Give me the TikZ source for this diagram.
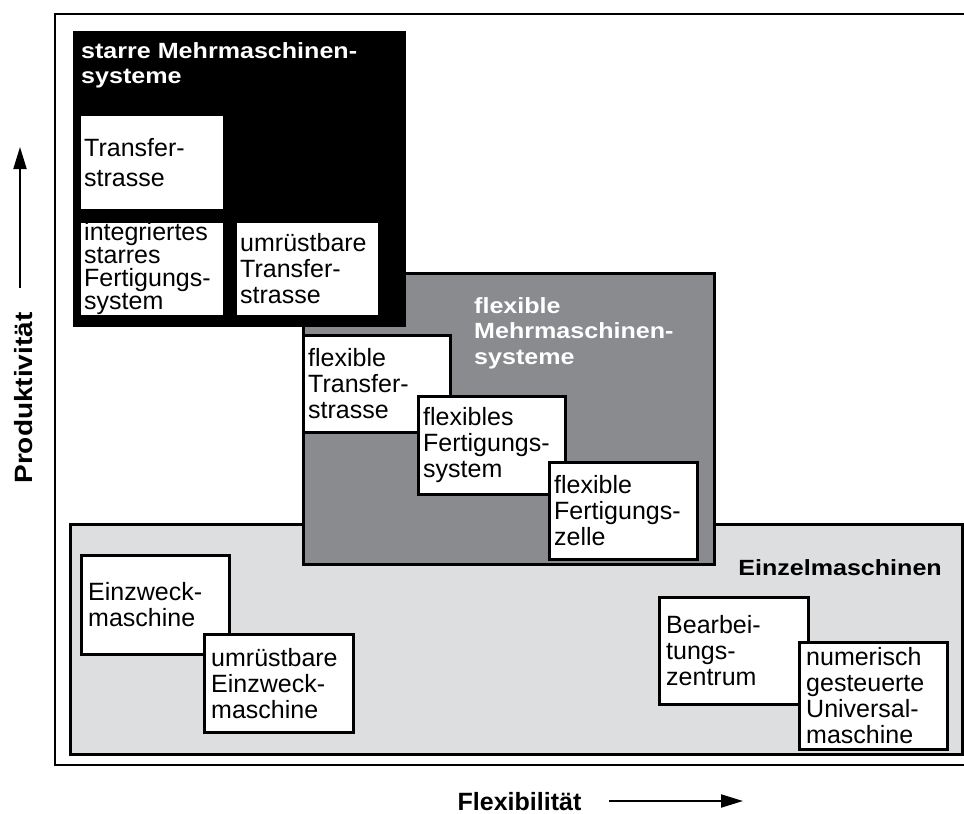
\documentclass[tikz,border=0pt]{standalone}
\usepackage{fontspec}
\setmainfont{Liberation Sans}
\usetikzlibrary{arrows.meta}
\definecolor{hellgrau}{RGB}{221,222,224}
\definecolor{mittelgrau}{RGB}{138,139,143}
\newfontfamily\breitfont[FakeStretch=1.14]{Liberation Sans}
\newfontfamily\achsfont[FakeStretch=1.12]{Liberation Sans}
\tikzset{
  feld/.style={draw=black, line width=2.5pt, anchor=north west, inner sep=0pt},
  kasten/.style={feld, fill=white},
  beschr/.style={anchor=west, inner sep=0pt, align=left},
  titel/.style={anchor=north west, inner sep=0pt, align=left, font=\breitfont\bfseries\fontsize{22}{25.5}\selectfont},
  achse/.style={line width=2pt, -{Triangle[length=22pt,width=13pt]}},
}
\begin{document}
\begin{tikzpicture}[x=1pt,y=-1pt]
\useasboundingbox (0,0) rectangle (964,814);
\clip (0,0) rectangle (964,814);
% Rahmen
\node[feld, line width=2.3pt, minimum width=914pt, minimum height=751pt] (rahmen) at (54,13) {};
% Einzelmaschinen
\node[feld, fill=hellgrau, minimum width=892pt, minimum height=230pt] (einzel) at (69,523) {};
\node[titel, anchor=base east] (einzel-t) at (942,575) {Einzelmaschinen};
\foreach \n/\x/\y/\w/\h/\ls/\txt in {
    ezm/80/554/148/99/26/{Einzweck-\\maschine},
    uezm/203/633/149/98/26/{umrüstbare\\Einzweck-\\maschine},
    bz/658/596/149/107/26/{Bearbei-\\tungs-\\zentrum},
    nc/798/641/148/107/26/{numerisch\\gesteuerte\\Universal-\\maschine}}{
  \node[kasten, minimum width=\w pt, minimum height=\h pt] (\n) at (\x,\y) {};
  \node[beschr, font=\fontsize{25}{\ls}\selectfont] (\n-t) at ([xshift=8pt]\n.west) {\txt};
}
% flexible Mehrmaschinensysteme
\node[feld, fill=mittelgrau, minimum width=411pt, minimum height=291pt] (flex) at (302,272) {};
\node[titel, text=white] (flex-t) at (474,297.25) {flexible\\Mehrmaschinen-\\systeme};
% starre Mehrmaschinensysteme
\node[feld, draw=none, fill=black, minimum width=333pt, minimum height=296pt] (starr) at (72,30) {};
\node[titel, text=white] (starr-t) at (81,42.25) {starre Mehrmaschinen-\\systeme};
\foreach \n/\x/\y/\w/\h/\ls/\txt in {
    ts/78/113/145/96/30/{Transfer-\\strasse},
    ifs/78/220/145/95/23/{integriertes\\starres\\Fertigungs-\\system},
    uts/234/220/144/95/26/{umrüstbare\\Transfer-\\strasse},
    fts/302/334/147/97/26/{flexible\\Transfer-\\strasse},
    ffs/417/395/147/98/26/{flexibles\\Fertigungs-\\system},
    ffz/548/461/148/97/26/{flexible\\Fertigungs-\\zelle}}{
  \node[kasten, minimum width=\w pt, minimum height=\h pt] (\n) at (\x,\y) {};
  \node[beschr, font=\fontsize{25}{\ls}\selectfont] (\n-t) at ([xshift=6pt]\n.west) {\txt};
}
% Achsen
\coordinate (p0) at (20,288);
\coordinate (p1) at (20,147);
\draw[achse] (p0) -- (p1);
\node[font=\achsfont\bfseries\fontsize{25}{30}\selectfont, rotate=90, anchor=base, inner sep=0pt] (prod) at (32,398) {Produktivität};
\coordinate (f0) at (609,801);
\coordinate (f1) at (743,801);
\draw[achse] (f0) -- (f1);
\node[font=\bfseries\fontsize{25}{30}\selectfont, anchor=base, inner sep=0pt] (flexi) at (519.5,810) {Flexibilität};
\end{tikzpicture}
\end{document}
